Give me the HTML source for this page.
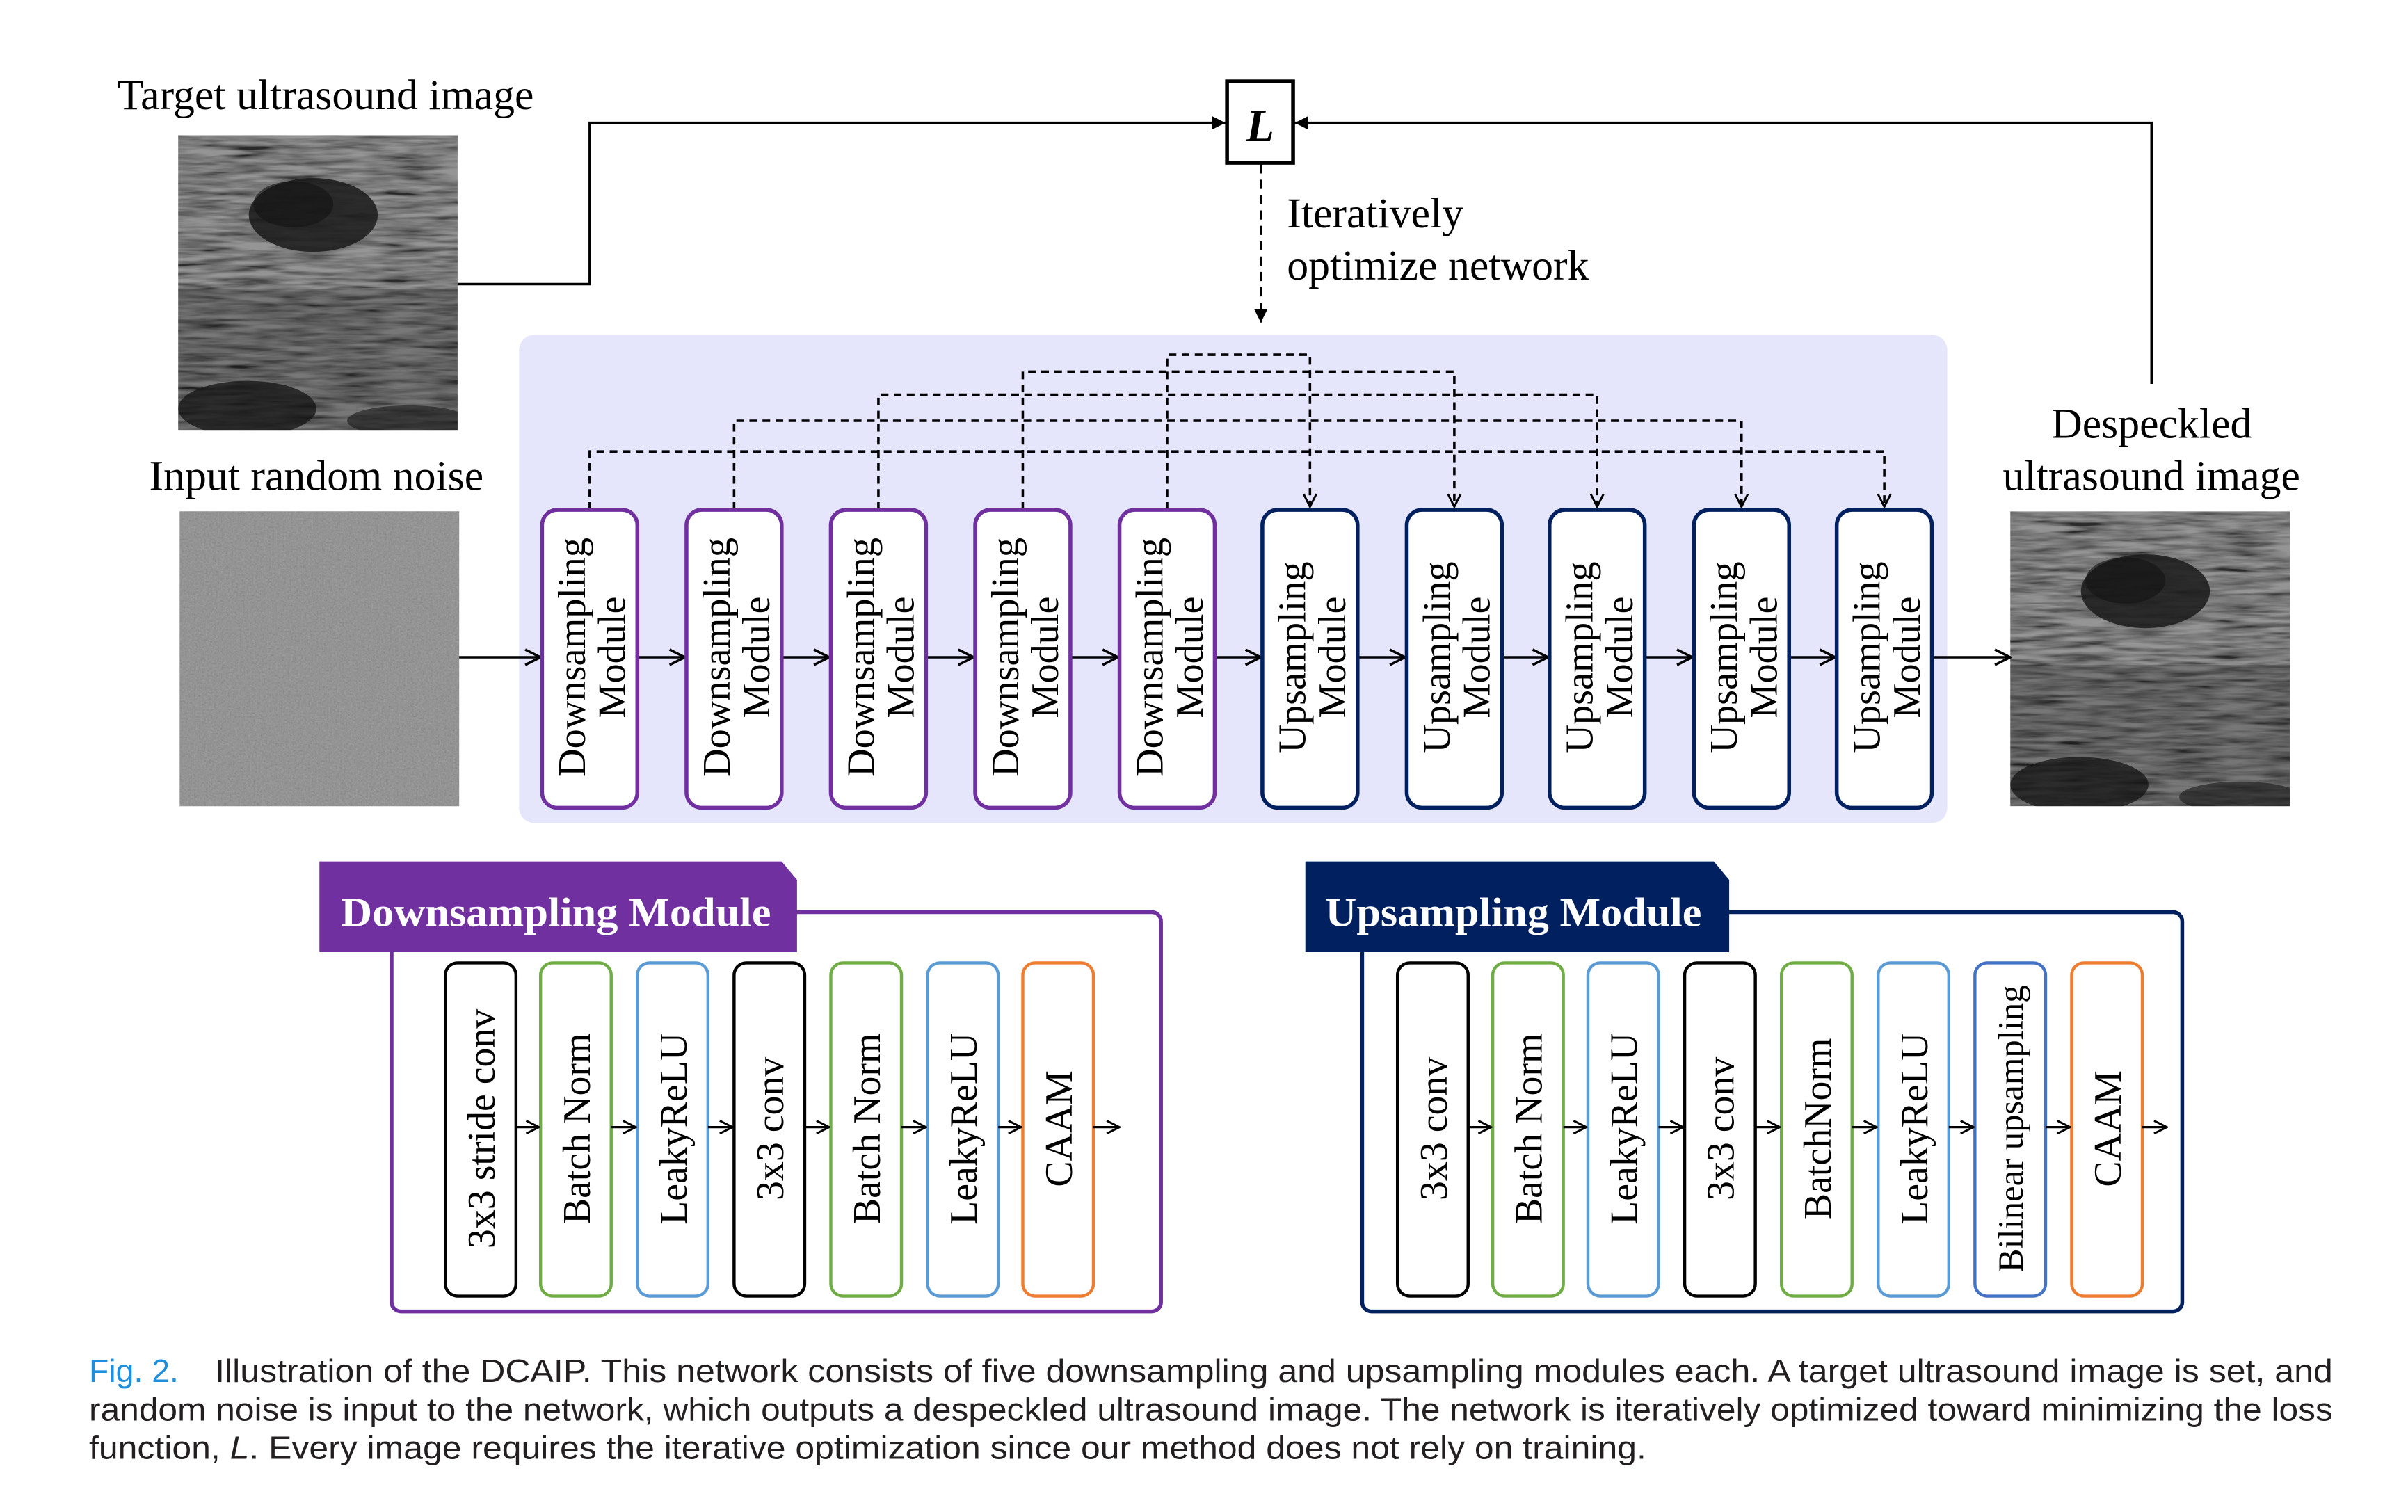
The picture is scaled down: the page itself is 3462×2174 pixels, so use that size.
<!DOCTYPE html>
<html><head><meta charset="utf-8"><style>html,body{margin:0;padding:0;background:#fff}svg{display:block}</style></head>
<body>
<svg width="3462" height="2174" viewBox="0 0 1568 984.6" xmlns="http://www.w3.org/2000/svg" font-family="'Liberation Serif', serif">
<defs>
<marker id="fa" viewBox="0 0 10 10" refX="10" refY="5" markerWidth="9" markerHeight="9" markerUnits="userSpaceOnUse" orient="auto"><path d="M0,0 L10,5 L0,10 z" fill="#000"/></marker>
<marker id="oa" viewBox="0 0 12 12" refX="11" refY="6" markerWidth="12" markerHeight="12" markerUnits="userSpaceOnUse" orient="auto"><path d="M1,1 L11,6 L1,11" fill="none" stroke="#000" stroke-width="1.6"/></marker>
<marker id="sa" viewBox="0 0 12 12" refX="11" refY="6" markerWidth="10" markerHeight="10" markerUnits="userSpaceOnUse" orient="auto"><path d="M1,1 L11,6 L1,11" fill="none" stroke="#000" stroke-width="1.6"/></marker>
<filter id="noise" x="0" y="0" width="100%" height="100%"><feTurbulence type="fractalNoise" baseFrequency="0.9" numOctaves="2" seed="3"/><feColorMatrix type="matrix" values="0.33 0.33 0.33 0 0  0.33 0.33 0.33 0 0  0.33 0.33 0.33 0 0  0 0 0 0 1"/><feComposite in2="SourceGraphic" operator="in"/></filter>
<filter id="us" x="0" y="0" width="100%" height="100%"><feTurbulence type="fractalNoise" baseFrequency="0.03 0.3" numOctaves="3" seed="7"/><feColorMatrix type="matrix" values="0.6 0.6 0.6 0 -0.55  0.6 0.6 0.6 0 -0.55  0.6 0.6 0.6 0 -0.55  0 0 0 0 1"/><feComponentTransfer><feFuncR type="gamma" amplitude="2.2" exponent="1.4"/><feFuncG type="gamma" amplitude="2.2" exponent="1.4"/><feFuncB type="gamma" amplitude="2.2" exponent="1.4"/></feComponentTransfer></filter>
<clipPath id="usclip"><rect x="0" y="0" width="182" height="192"/></clipPath>
<g id="usimg" clip-path="url(#usclip)">
<rect x="0" y="0" width="182" height="192" fill="#2a2a2a"/>
<rect x="0" y="0" width="182" height="192" fill="#000" filter="url(#us)" opacity="0.5" style="mix-blend-mode:screen"/>
<rect x="0" y="100" width="182" height="92" fill="#000" opacity="0.2"/>
<ellipse cx="88" cy="52" rx="42" ry="24" fill="#1a1a1a" opacity="0.85"/>
<ellipse cx="75" cy="45" rx="26" ry="15" fill="#131313" opacity="0.6"/>
<ellipse cx="45" cy="178" rx="45" ry="18" fill="#0e0e0e" opacity="0.7"/>
<ellipse cx="150" cy="186" rx="40" ry="10" fill="#111" opacity="0.55"/>
</g>
</defs>

<!-- top labels -->
<text x="212" y="71" font-size="28" text-anchor="middle">Target ultrasound image</text>
<text x="206" y="319" font-size="28" text-anchor="middle">Input random noise</text>
<text x="1401" y="285" font-size="28" text-anchor="middle">Despeckled</text>
<text x="1401" y="319" font-size="28" text-anchor="middle">ultrasound image</text>
<text x="838" y="148" font-size="28">Iteratively</text>
<text x="838" y="182" font-size="28">optimize network</text>

<!-- images -->
<use href="#usimg" transform="translate(116,88)"/>
<rect x="117" y="333" width="182" height="192" fill="#7f7f7f"/>
<rect x="117" y="333" width="182" height="192" fill="#fff" filter="url(#noise)" opacity="0.35"/>
<use href="#usimg" transform="translate(1309,333)"/>

<!-- L box and lines -->
<rect x="799" y="53" width="43" height="53" fill="#fff" stroke="#000" stroke-width="2.5"/>
<text x="820.5" y="92" font-size="30" font-weight="bold" font-style="italic" text-anchor="middle">L</text>
<polyline points="298,185 384,185 384,80 798,80" fill="none" stroke="#000" stroke-width="1.6" marker-end="url(#fa)"/>
<polyline points="1401,250 1401,80 843,80" fill="none" stroke="#000" stroke-width="1.6" marker-end="url(#fa)"/>
<line x1="821" y1="107" x2="821" y2="210" stroke="#000" stroke-width="1.4" stroke-dasharray="6,4" marker-end="url(#fa)"/>

<!-- panel -->
<rect x="338" y="218" width="930" height="318" rx="10" fill="#e5e5fc"/>

<!-- skip connections -->
<g fill="none" stroke="#000" stroke-width="1.6" stroke-dasharray="5,3.5">
<polyline points="760,332 760,231 853,231 853,330" marker-end="url(#sa)"/>
<polyline points="666,332 666,242 947,242 947,330" marker-end="url(#sa)"/>
<polyline points="572,332 572,257 1040,257 1040,330" marker-end="url(#sa)"/>
<polyline points="478,332 478,274 1134,274 1134,330" marker-end="url(#sa)"/>
<polyline points="384,332 384,294 1227,294 1227,330" marker-end="url(#sa)"/>
</g>

<!-- horizontal arrows -->
<g stroke="#000" stroke-width="1.6" marker-end="url(#oa)">
<line x1="299" y1="428" x2="352" y2="428"/>
<line x1="415" y1="428" x2="446" y2="428"/>
<line x1="509" y1="428" x2="540" y2="428"/>
<line x1="603" y1="428" x2="634" y2="428"/>
<line x1="697" y1="428" x2="728" y2="428"/>
<line x1="791" y1="428" x2="821" y2="428"/>
<line x1="884" y1="428" x2="915" y2="428"/>
<line x1="978" y1="428" x2="1008" y2="428"/>
<line x1="1071" y1="428" x2="1102" y2="428"/>
<line x1="1165" y1="428" x2="1195" y2="428"/>
<line x1="1258" y1="428" x2="1309" y2="428"/>
</g>

<!-- modules -->
<g font-size="25.5" text-anchor="middle">
<g stroke="#7030a0" stroke-width="2.5" fill="#fff">
<rect x="353" y="332" width="62" height="194" rx="10"/>
<rect x="447" y="332" width="62" height="194" rx="10"/>
<rect x="541" y="332" width="62" height="194" rx="10"/>
<rect x="635" y="332" width="62" height="194" rx="10"/>
<rect x="729" y="332" width="62" height="194" rx="10"/>
</g>
<g stroke="#002060" stroke-width="2.5" fill="#fff">
<rect x="822" y="332" width="62" height="194" rx="10"/>
<rect x="916" y="332" width="62" height="194" rx="10"/>
<rect x="1009" y="332" width="62" height="194" rx="10"/>
<rect x="1103" y="332" width="62" height="194" rx="10"/>
<rect x="1196" y="332" width="62" height="194" rx="10"/>
</g>
<g transform="translate(384,428) rotate(-90)"><text y="-3">Downsampling</text><text y="23">Module</text></g>
<g transform="translate(478,428) rotate(-90)"><text y="-3">Downsampling</text><text y="23">Module</text></g>
<g transform="translate(572,428) rotate(-90)"><text y="-3">Downsampling</text><text y="23">Module</text></g>
<g transform="translate(666,428) rotate(-90)"><text y="-3">Downsampling</text><text y="23">Module</text></g>
<g transform="translate(760,428) rotate(-90)"><text y="-3">Downsampling</text><text y="23">Module</text></g>
<g transform="translate(853,428) rotate(-90)"><text y="-3">Upsampling</text><text y="23">Module</text></g>
<g transform="translate(947,428) rotate(-90)"><text y="-3">Upsampling</text><text y="23">Module</text></g>
<g transform="translate(1040,428) rotate(-90)"><text y="-3">Upsampling</text><text y="23">Module</text></g>
<g transform="translate(1134,428) rotate(-90)"><text y="-3">Upsampling</text><text y="23">Module</text></g>
<g transform="translate(1227,428) rotate(-90)"><text y="-3">Upsampling</text><text y="23">Module</text></g>
</g>

<!-- Downsampling module detail -->
<rect x="255" y="594" width="501" height="260" rx="6" fill="none" stroke="#7030a0" stroke-width="2.5"/>
<path d="M208,561 L509,561 L519,573 L519,620 L208,620 z" fill="#7030a0"/>
<text x="222" y="603" font-size="27" font-weight="bold" fill="#fff" textLength="280" lengthAdjust="spacingAndGlyphs">Downsampling Module</text>
<g fill="#fff" stroke-width="2">
<rect x="290" y="627" width="46" height="217" rx="8" stroke="#000"/>
<rect x="352" y="627" width="46" height="217" rx="8" stroke="#70ad47"/>
<rect x="415" y="627" width="46" height="217" rx="8" stroke="#5b9bd5"/>
<rect x="478" y="627" width="46" height="217" rx="8" stroke="#000"/>
<rect x="541" y="627" width="46" height="217" rx="8" stroke="#70ad47"/>
<rect x="604" y="627" width="46" height="217" rx="8" stroke="#5b9bd5"/>
<rect x="666" y="627" width="46" height="217" rx="8" stroke="#ed7d31"/>
</g>
<g stroke="#000" stroke-width="1.5" marker-end="url(#sa)">
<line x1="336" y1="734" x2="351" y2="734"/>
<line x1="398" y1="734" x2="414" y2="734"/>
<line x1="461" y1="734" x2="477" y2="734"/>
<line x1="524" y1="734" x2="540" y2="734"/>
<line x1="587" y1="734" x2="603" y2="734"/>
<line x1="650" y1="734" x2="665" y2="734"/>
<line x1="712" y1="734" x2="729" y2="734"/>
</g>
<g font-size="25.3" text-anchor="middle">
<text transform="translate(322,735) rotate(-90)">3x3 stride conv</text>
<text transform="translate(384,735) rotate(-90)">Batch Norm</text>
<text transform="translate(447,735) rotate(-90)">LeakyReLU</text>
<text transform="translate(510,735) rotate(-90)">3x3 conv</text>
<text transform="translate(573,735) rotate(-90)">Batch Norm</text>
<text transform="translate(636,735) rotate(-90)">LeakyReLU</text>
<text transform="translate(698,735) rotate(-90)">CAAM</text>
</g>

<!-- Upsampling module detail -->
<rect x="887" y="594" width="534" height="260" rx="6" fill="none" stroke="#002060" stroke-width="2.5"/>
<path d="M850,561 L1116,561 L1126,573 L1126,620 L850,620 z" fill="#002060"/>
<text x="863" y="603" font-size="27" font-weight="bold" fill="#fff" textLength="245" lengthAdjust="spacingAndGlyphs">Upsampling Module</text>
<g fill="#fff" stroke-width="2">
<rect x="910" y="627" width="46" height="217" rx="8" stroke="#000"/>
<rect x="972" y="627" width="46" height="217" rx="8" stroke="#70ad47"/>
<rect x="1034" y="627" width="46" height="217" rx="8" stroke="#5b9bd5"/>
<rect x="1097" y="627" width="46" height="217" rx="8" stroke="#000"/>
<rect x="1160" y="627" width="46" height="217" rx="8" stroke="#70ad47"/>
<rect x="1223" y="627" width="46" height="217" rx="8" stroke="#5b9bd5"/>
<rect x="1286" y="627" width="46" height="217" rx="8" stroke="#4472c4"/>
<rect x="1349" y="627" width="46" height="217" rx="8" stroke="#ed7d31"/>
</g>
<g stroke="#000" stroke-width="1.5" marker-end="url(#sa)">
<line x1="956" y1="734" x2="971" y2="734"/>
<line x1="1018" y1="734" x2="1033" y2="734"/>
<line x1="1080" y1="734" x2="1096" y2="734"/>
<line x1="1143" y1="734" x2="1159" y2="734"/>
<line x1="1206" y1="734" x2="1222" y2="734"/>
<line x1="1269" y1="734" x2="1285" y2="734"/>
<line x1="1332" y1="734" x2="1348" y2="734"/>
<line x1="1395" y1="734" x2="1411" y2="734"/>
</g>
<g font-size="25.3" text-anchor="middle">
<text transform="translate(942,735) rotate(-90)">3x3 conv</text>
<text transform="translate(1004,735) rotate(-90)">Batch Norm</text>
<text transform="translate(1066,735) rotate(-90)">LeakyReLU</text>
<text transform="translate(1129,735) rotate(-90)">3x3 conv</text>
<text transform="translate(1192,735) rotate(-90)">BatchNorm</text>
<text transform="translate(1255,735) rotate(-90)">LeakyReLU</text>
<text transform="translate(1317,735) rotate(-90)" font-size="23">Bilinear upsampling</text>
<text transform="translate(1381,735) rotate(-90)">CAAM</text>
</g>

<!-- caption -->
<g font-family="'Liberation Sans', sans-serif" font-size="21" fill="#231f20">
<text x="58" y="900" fill="#1e8fdc">Fig. 2.</text>
<text x="140" y="900" textLength="1379" lengthAdjust="spacingAndGlyphs">Illustration of the DCAIP. This network consists of five downsampling and upsampling modules each. A target ultrasound image is set, and</text>
<text x="58" y="925" textLength="1461" lengthAdjust="spacingAndGlyphs">random noise is input to the network, which outputs a despeckled ultrasound image. The network is iteratively optimized toward minimizing the loss</text>
<text x="58" y="950" textLength="1014" lengthAdjust="spacingAndGlyphs">function, <tspan font-style="italic">L</tspan>. Every image requires the iterative optimization since our method does not rely on training.</text>
</g>
</svg>
</body></html>
